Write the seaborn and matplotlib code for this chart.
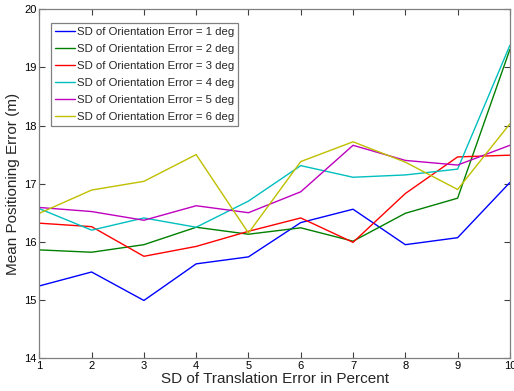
import numpy as np
import pandas as pd
import matplotlib
matplotlib.use("Agg")
import matplotlib.pyplot as plt
import seaborn as sns

# SD of translation error (percent)
translation_sd = [1, 2, 3, 4, 5, 6, 7, 8, 9, 10]

# Mean positioning error (m) for each SD of orientation error
err_1deg = [15.24, 15.48, 14.99, 15.62, 15.74, 16.33, 16.56, 15.95, 16.07, 17.02]
err_2deg = [15.86, 15.82, 15.95, 16.25, 16.13, 16.24, 16.01, 16.49, 16.75, 19.31]
err_3deg = [16.32, 16.26, 15.75, 15.92, 16.18, 16.41, 15.99, 16.83, 17.46, 17.49]
err_4deg = [16.57, 16.20, 16.41, 16.25, 16.70, 17.31, 17.11, 17.15, 17.25, 19.38]
err_5deg = [16.59, 16.52, 16.37, 16.62, 16.50, 16.86, 17.66, 17.40, 17.32, 17.66]
err_6deg = [16.49, 16.89, 17.04, 17.50, 16.15, 17.38, 17.72, 17.37, 16.90, 18.03]

series_labels = [f"SD of Orientation Error = {d} deg" for d in range(1, 7)]
series_values = [err_1deg, err_2deg, err_3deg, err_4deg, err_5deg, err_6deg]
line_colors = ["#0000ff", "#008000", "#ff0000", "#00bfbf", "#bf00bf", "#bfbf00"]

df = pd.DataFrame(
    [(x, v, lab) for lab, vals in zip(series_labels, series_values)
     for x, v in zip(translation_sd, vals)],
    columns=["translation", "error", "series"],
)

sns.set_style("white")
plt.rcParams["font.family"] = ["Liberation Sans", "DejaVu Sans"]

fig = plt.figure(figsize=(5.14, 3.91), dpi=100)
ax = fig.add_axes([0.0765, 0.0844, 0.9155, 0.8918])

sns.lineplot(data=df, x="translation", y="error", hue="series",
             hue_order=series_labels, palette=line_colors,
             linewidth=1.0, ax=ax, legend=True)

ax.set_xlim(1, 10)
ax.set_ylim(14, 20)
ax.set_xticks(translation_sd)
ax.set_yticks(np.arange(14, 21, 1))
ax.tick_params(direction="in", length=4, width=0.8, colors="#404040",
               labelcolor="black", labelsize=8, top=True, right=True,
               bottom=True, left=True, pad=2)
for s in ax.spines.values():
    s.set_color("#808080")
    s.set_linewidth(0.9)
    s.set_visible(True)

ax.set_xlabel("SD of Translation Error in Percent", fontsize=11, labelpad=1)
ax.set_ylabel("Mean Positioning Error (m)", fontsize=11, labelpad=3)

leg = ax.legend(loc="upper left", bbox_to_anchor=(0.024, 0.961), fontsize=8.2,
                handlelength=1.8, handletextpad=0.15, borderpad=0.35,
                borderaxespad=0.0, labelspacing=0.62, frameon=True,
                fancybox=False, framealpha=1)
leg.get_frame().set_edgecolor("#808080")
leg.get_frame().set_linewidth(0.9)

fig.savefig("out.png", dpi=100)
